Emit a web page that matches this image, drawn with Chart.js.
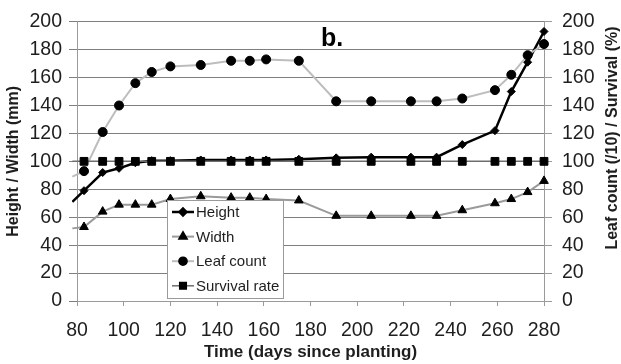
<!DOCTYPE html>
<html>
<head>
<meta charset="utf-8">
<script src="https://cdn.jsdelivr.net/npm/chart.js@4.4.1/dist/chart.umd.min.js"></script>
<style>
  html, body { margin: 0; padding: 0; background: #fff; }
  #wrap { width: 621px; height: 364px; }
</style>
</head>
<body>
<div id="wrap"><canvas id="growthChart" width="621" height="364"></canvas></div>
<script>
// sampling days (first sample falls just before the axis start)
const days = [78, 83, 91, 98, 105, 112, 120, 133, 146, 154, 161, 175, 191, 206, 223, 234, 245, 259, 266, 273, 280];
const height = [71, 79, 92, 95, 99, 100.5, 100.5, 101, 101, 101, 101, 101.5, 102.5, 103, 103, 103, 112, 122, 150, 171, 193];
const width = [52, 53, 64, 69, 69, 69, 73, 75, 74, 74, 73, 72, 61, 61, 61, 61, 65, 70, 73, 78, 86];
const leafCount = [89, 93, 121, 140, 156, 164, 168, 169, 172, 172, 173, 172, 143, 143, 143, 143, 145, 151, 162, 176, 184];
const survival = [100, 100, 100, 100, 100, 100, 100, 100, 100, 100, 100, 100, 100, 100, 100, 100, 100, 100, 100, 100, 100];
const xTicks = [80, 100, 120, 140, 160, 180, 200, 220, 240, 260, 280];

const TEXT = "#1e1e1e";
const FONT = "'Liberation Sans', Arial, sans-serif";

function points(values) {
    return days.map((d, i) => ({ x: d, y: values[i] }));
}

// no marker for samples that sit left of the axis
function markerSize(r) {
    return (ctx) => (ctx.raw && ctx.raw.x < 80 ? 0 : r);
}

function series(label, values, yAxisID, lineColor, lineWidth, pointStyle, r) {
    return {
        label,
        data: points(values),
        yAxisID,
        borderColor: lineColor,
        borderWidth: lineWidth,
        pointStyle,
        pointRadius: markerSize(r),
        pointHoverRadius: markerSize(r),
        pointBackgroundColor: "#000",
        pointBorderColor: "#000",
        pointBorderWidth: 1,
        legendRadius: r,
        tension: 0,
        fill: false,
        clip: { left: 5, top: 8, right: 8, bottom: 0 },
    };
}

const datasets = [
    series("Survival rate", survival, "y2", "#6e6e6e", 1.5, "rect", 5.5),
    series("Leaf count", leafCount, "y2", "#bdbdbd", 2, "circle", 4.5),
    series("Width", width, "y", "#9a9a9a", 2, "triangle", 5),
    series("Height", height, "y", "#000", 2.5, "rectRot", 4),
];

// legend box drawn inside the plot, plus the panel letter and the right axis title
const extras = {
    id: "extras",
    afterDatasetsDraw(chart) {
        const ctx = chart.ctx;
        const order = ["Height", "Width", "Leaf count", "Survival rate"];
        ctx.save();
        ctx.fillStyle = "#fff";
        ctx.strokeStyle = "#9a9a9a";
        ctx.lineWidth = 1;
        ctx.fillRect(167, 200, 116, 98);
        ctx.strokeRect(167.5, 200.5, 116, 98);

        order.forEach((name, i) => {
            const ds = chart.data.datasets.find((d) => d.label === name);
            const y = 212 + i * 24.6;
            ctx.strokeStyle = ds.borderColor;
            ctx.lineWidth = ds.borderWidth;
            ctx.beginPath();
            ctx.moveTo(172, y);
            ctx.lineTo(194, y);
            ctx.stroke();
            ctx.fillStyle = "#000";
            ctx.strokeStyle = "#000";
            Chart.helpers.drawPoint(ctx, {
                pointStyle: ds.pointStyle,
                radius: ds.legendRadius * 0.85,
                rotation: 0,
                borderWidth: 1,
            }, 183, y);
            ctx.fillStyle = TEXT;
            ctx.font = `15px ${FONT}`;
            ctx.textAlign = "left";
            ctx.textBaseline = "middle";
            ctx.fillText(name, 196, y + 1);
        });

        ctx.fillStyle = "#000";
        ctx.font = `bold 25px ${FONT}`;
        ctx.textAlign = "left";
        ctx.textBaseline = "alphabetic";
        ctx.fillText("b.", 321, 46);

        ctx.translate(613, 138);
        ctx.rotate(-Math.PI / 2);
        ctx.fillStyle = TEXT;
        ctx.font = `bold 16px ${FONT}`;
        ctx.textAlign = "center";
        ctx.textBaseline = "middle";
        ctx.fillText("Leaf count (/10) / Survival (%)", 0, 0);
        ctx.restore();
    },
};

const tickFont = { family: FONT, size: 19.5 };

new Chart(document.getElementById("growthChart"), {
    type: "line",
    data: { datasets },
    options: {
        responsive: false,
        animation: false,
        devicePixelRatio: 1,
        layout: { padding: { top: 18, left: 0, right: 0, bottom: 0 } },
        plugins: { legend: { display: false }, tooltip: { enabled: false } },
        scales: {
            x: {
                type: "linear",
                min: 80,
                max: 280,
                afterBuildTicks: (scale) => {
                    scale.ticks = xTicks.map((v) => ({ value: v }));
                },
                ticks: { font: tickFont, color: TEXT, padding: 13, maxRotation: 0 },
                grid: { drawOnChartArea: false, tickLength: 5, color: "#9a9a9a" },
                border: { color: "#9a9a9a" },
                title: {
                    display: true,
                    text: "Time (days since planting)",
                    color: TEXT,
                    font: { family: FONT, size: 17, weight: "bold", lineHeight: 1 },
                    padding: { top: 0, bottom: 3.5 },
                },
                afterFit: (scale) => { scale.height = 63; },
            },
            y: {
                position: "left",
                min: 0,
                max: 200,
                ticks: { stepSize: 20, font: tickFont, color: TEXT, padding: 7 },
                grid: { color: "#7e7e7e", tickLength: 8 },
                border: { color: "#9a9a9a" },
                title: {
                    display: true,
                    text: "Height / Width (mm)",
                    color: TEXT,
                    font: { family: FONT, size: 16, weight: "bold", lineHeight: 1 },
                    padding: { top: 6, bottom: 0 },
                },
                afterFit: (scale) => { scale.width = 77; },
            },
            y2: {
                position: "right",
                min: 0,
                max: 200,
                ticks: { stepSize: 20, font: tickFont, color: TEXT, padding: 10 },
                grid: { drawOnChartArea: false, tickLength: 8, color: "#9a9a9a" },
                border: { color: "#9a9a9a" },
                afterFit: (scale) => { scale.width = 77; },
            },
        },
    },
    plugins: [extras],
});
</script>
</body>
</html>
